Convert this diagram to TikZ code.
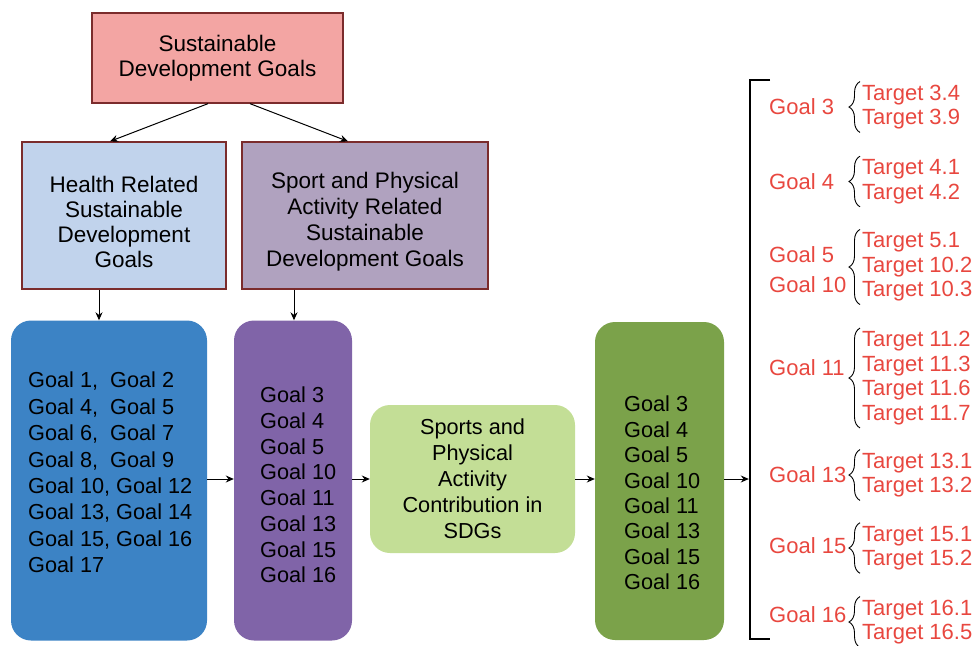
\documentclass[tikz,border=0pt]{standalone}
\usepackage{fontspec}
\setmainfont{Liberation Sans}
\usetikzlibrary{arrows.meta,calc,decorations.pathreplacing}
\definecolor{boxline}{HTML}{7B2C2C}
\definecolor{sdgpink}{HTML}{F3A5A3}
\definecolor{healthblue}{HTML}{C1D3EC}
\definecolor{sportmauve}{HTML}{B0A2BF}
\definecolor{goalblue}{HTML}{3C83C5}
\definecolor{goalpurple}{HTML}{8064A8}
\definecolor{contribgreen}{HTML}{C3DE96}
\definecolor{goalgreen}{HTML}{7BA24A}
\definecolor{tgtred}{HTML}{E8473F}
\newcommand{\bigtxt}[1]{\fontsize{21.7}{#1}\selectfont}
\newcommand{\boxtxt}[1]{\fontsize{22.5}{#1}\selectfont}

\begin{document}
\begin{tikzpicture}[x=1pt,y=-1pt,
  sqbox/.style={draw=boxline,line width=1.3pt,inner sep=0pt},
  boxlbl/.style={align=center,inner sep=0pt},
  rbox/.style={rounded corners=20pt,inner sep=0pt},
  golist/.style={anchor=west,align=left,inner sep=0pt},
  arr/.style={-{Stealth[length=8pt,width=7pt]},line width=1pt},
  goal/.style={anchor=west,align=left,inner sep=0pt,text=tgtred,font=\fontsize{22}{24.5}\selectfont},
  tgt/.style={anchor=west,align=left,inner xsep=0pt,inner ysep=3pt,text=tgtred,font=\fontsize{22}{24.5}\selectfont},
  brc/.style={decorate,decoration={brace,amplitude=11pt},line width=0.9pt}]
 \useasboundingbox (0,0) rectangle (974,645);
 % top of the tree
 \node[sqbox,fill=sdgpink,minimum width=251,minimum height=90] (sdg) at (217.5,58) {};
 \node[boxlbl,font=\boxtxt{25}] (sdgtxt) at (sdg) {Sustainable\\Development Goals};
 \node[sqbox,fill=healthblue,minimum width=204,minimum height=147] (health) at (124,215.5) {};
 \node[boxlbl,font=\boxtxt{25}] (healthtxt) at ([yshift=-6pt]health) {Health Related\\Sustainable\\Development\\Goals};
 \node[sqbox,fill=sportmauve,minimum width=246,minimum height=147] (sport) at (365,215.5) {};
 \node[boxlbl,font=\boxtxt{25.8}] (sporttxt) at ([yshift=-6pt]sport) {Sport and Physical\\Activity Related\\Sustainable\\Development Goals};
 \draw[arr] ([xshift=-9.5pt]sdg.south) -- ([xshift=-14pt]health.north);
 \draw[arr] ([xshift=32.5pt]sdg.south) -- ([xshift=-17pt]sport.north);

 % goal columns
 \node[rbox,fill=goalblue,minimum width=196,minimum height=320] (blue) at (109,480.5) {};
 \node[rbox,fill=goalpurple,minimum width=118,minimum height=320] (purple) at (293,480.5) {};
 \node[rbox,fill=contribgreen,minimum width=205,minimum height=148,align=center,font=\bigtxt{26}] (sdgc) at (472.5,479) {Sports and\\Physical\\Activity\\Contribution in\\SDGs};
 \node[rbox,fill=goalgreen,minimum width=129,minimum height=318] (green) at (659.5,481) {};
 \node[golist,font=\bigtxt{26.4}] (bluelist) at (28,472.5) {Goal 1,\ \ Goal 2\\Goal 4,\ \ Goal 5\\Goal 6,\ \ Goal 7\\Goal 8,\ \ Goal 9\\Goal 10, Goal 12\\Goal 13, Goal 14\\Goal 15, Goal 16\\Goal 17};
 \node[golist,font=\bigtxt{25.7}] (purplelist) at (260,485) {Goal 3\\Goal 4\\Goal 5\\Goal 10\\Goal 11\\Goal 13\\Goal 15\\Goal 16};
 \node[golist,font=\bigtxt{25.4}] (greenlist) at (624,493) {Goal 3\\Goal 4\\Goal 5\\Goal 10\\Goal 11\\Goal 13\\Goal 15\\Goal 16};
 \draw[arr] ([xshift=-25pt]health.south) -- ([xshift=-25pt]health.south |- blue.north);
 \draw[arr] ([xshift=-71pt]sport.south) -- ([xshift=-71pt]sport.south |- purple.north);

 \coordinate (brtop) at (750,80);
 \coordinate (brbot) at (750,639);
 \draw[arr] (blue.east |- sdgc) -- (purple.west |- sdgc);
 \draw[arr] (purple.east |- sdgc) -- (sdgc.west);
 \draw[arr] (sdgc.east) -- (sdgc.east -| green.west);
 \draw[arr,shorten >=1.2pt] (green.east |- sdgc) -- (sdgc -| brtop);
 \draw[line width=2.4pt] ([xshift=20pt]brtop) -- (brtop) -- (brbot) -- ([xshift=20pt]brbot);

 % goals and their targets
 \foreach \n/\gy/\ty/\g/\t in {
   3/107/107/{Goal 3}/{Target 3.4\\Target 3.9},
   4/182/181.5/{Goal 4}/{Target 4.1\\Target 4.2},
   5/270/267/{Goal 5\\[5.5pt]Goal 10}/{Target 5.1\\Target 10.2\\Target 10.3},
   11/368/378/{Goal 11}/{Target 11.2\\Target 11.3\\Target 11.6\\Target 11.7},
   13/475/475/{Goal 13}/{Target 13.1\\Target 13.2},
   15/546/548/{Goal 15}/{Target 15.1\\Target 15.2},
   16/615/622/{Goal 16}/{Target 16.1\\Target 16.5}}
 {
   \node[goal] (g\n) at (769,\gy) {\g};
   \node[tgt] (t\n) at (862,\ty) {\t};
   \draw[brc] ([xshift=-2pt]t\n.south west) -- ([xshift=-2pt]t\n.north west);
 }
\end{tikzpicture}
\end{document}
